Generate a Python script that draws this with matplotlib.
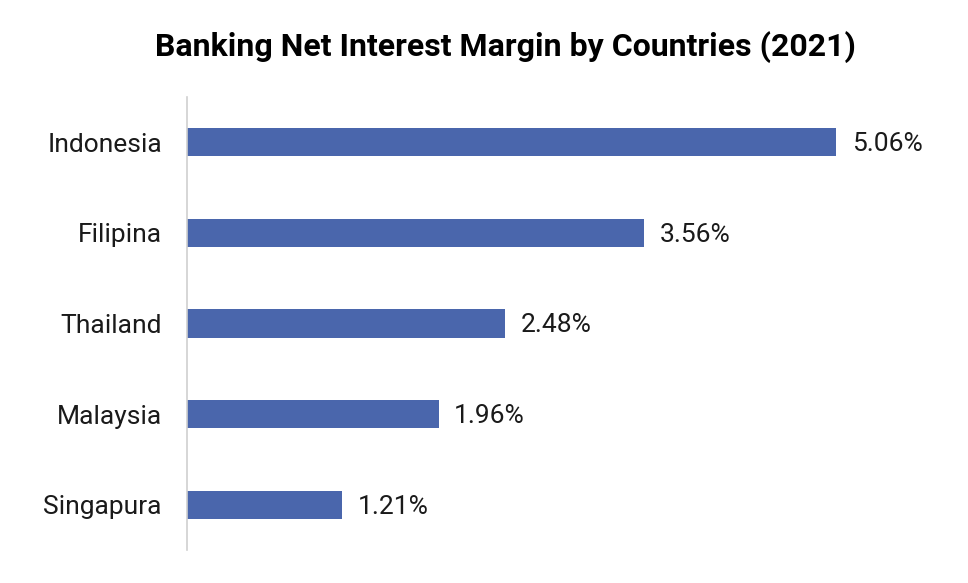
import matplotlib
matplotlib.use("Agg")
import matplotlib.pyplot as plt

# data
countries = ["Indonesia", "Filipina", "Thailand", "Malaysia", "Singapura"]
nim = [5.06, 3.56, 2.48, 1.96, 1.21]
labels = ["5.06%", "3.56%", "2.48%", "1.96%", "1.21%"]

plt.rcParams['font.family'] = ['Roboto', 'DejaVu Sans']

fig = plt.figure(figsize=(9.68, 5.83), dpi=100)
ax = fig.add_axes([187 / 968, 33 / 583, 770 / 968, 453 / 583])

y = list(range(len(countries)))
ax.barh(y, nim, height=0.31, color="#4A66AC")
for yi, v, lab in zip(y, nim, labels):
    ax.text(v + 0.12, yi + 0.02, lab, va="center", ha="left", fontsize=19, color="#1a1a1a")

ax.set_yticks(y)
ax.set_yticklabels(countries, fontsize=19, color="#1a1a1a")
ax.set_ylim(len(countries) - 0.5, -0.5)
ax.set_xlim(0, 6)
ax.set_xticks([])
ax.tick_params(axis="y", length=0, pad=18)

for side in ["top", "right", "bottom"]:
    ax.spines[side].set_visible(False)
ax.spines["left"].set_color("#d0d0d0")
ax.spines["left"].set_linewidth(1.2)

fig.text(505 / 968, 1 - 47 / 583, "Banking Net Interest Margin by Countries (2021)",
         ha="center", va="center", fontsize=23, fontweight="bold", color="#000000")

fig.savefig("out.png", dpi=100)
